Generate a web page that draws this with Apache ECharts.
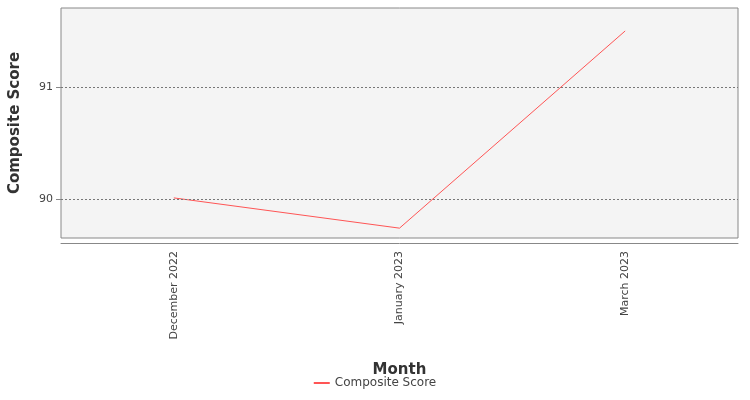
<!DOCTYPE html>
<html><head><meta charset="utf-8">
<script src="https://cdn.jsdelivr.net/npm/echarts@6/dist/echarts.min.js"></script>
</head><body style="margin:0">
<div id="c" style="width:750px;height:400px"></div>
<script>
const categories = ['December 2022', 'January 2023', 'March 2023'];
const scores = [90.01, 89.74, 91.5];
const yTicks = [90, 91];
const chart = echarts.init(document.getElementById('c'));
chart.setOption({
  backgroundColor: '#fff',
  animation: false,
  textStyle: { fontFamily: 'DejaVu Sans' },
  grid: { left: 59, right: 12, top: 8, bottom: 162, show: true, backgroundColor: '#f4f4f4', borderColor: '#888', borderWidth: 1 },
  legend: { bottom: 6, itemWidth: 16, itemHeight: 2, icon: 'rect', textStyle: { fontSize: 12, color: '#444' }, data: ['Composite Score'] },
  xAxis: {
    type: 'category', data: categories, boundaryGap: true,
    name: 'Month', nameLocation: 'middle', nameGap: 120,
    nameTextStyle: { fontSize: 15, color: '#333', fontWeight: 'bold' },
    offset: 5,
    axisLine: { lineStyle: { color: '#888' } },
    axisTick: { alignWithLabel: true, lineStyle: { color: '#888' } },
    axisLabel: { rotate: 90, color: '#444', fontSize: 11 }
  },
  yAxis: {
    type: 'value', min: 89.652, max: 91.705,
    name: 'Composite Score', nameLocation: 'middle', nameGap: 38,
    nameTextStyle: { fontSize: 15, color: '#333', fontWeight: 'bold' },
    axisLine: { show: false },
    axisTick: { show: true, customValues: yTicks, lineStyle: { color: '#888' } },
    axisLabel: { customValues: yTicks, color: '#444', fontSize: 11 },
    splitLine: { show: false }
  },
  series: [{
    name: 'Composite Score', type: 'line', data: scores, symbol: 'none',
    lineStyle: { color: '#ff5555', width: 1 }, itemStyle: { color: '#ff5555' },
    markLine: {
      silent: true, symbol: 'none', label: { show: false },
      lineStyle: { color: '#777', type: [2, 2], width: 1 },
      data: yTicks.map(v => ({ yAxis: v }))
    }
  }]
});
</script></body></html>
